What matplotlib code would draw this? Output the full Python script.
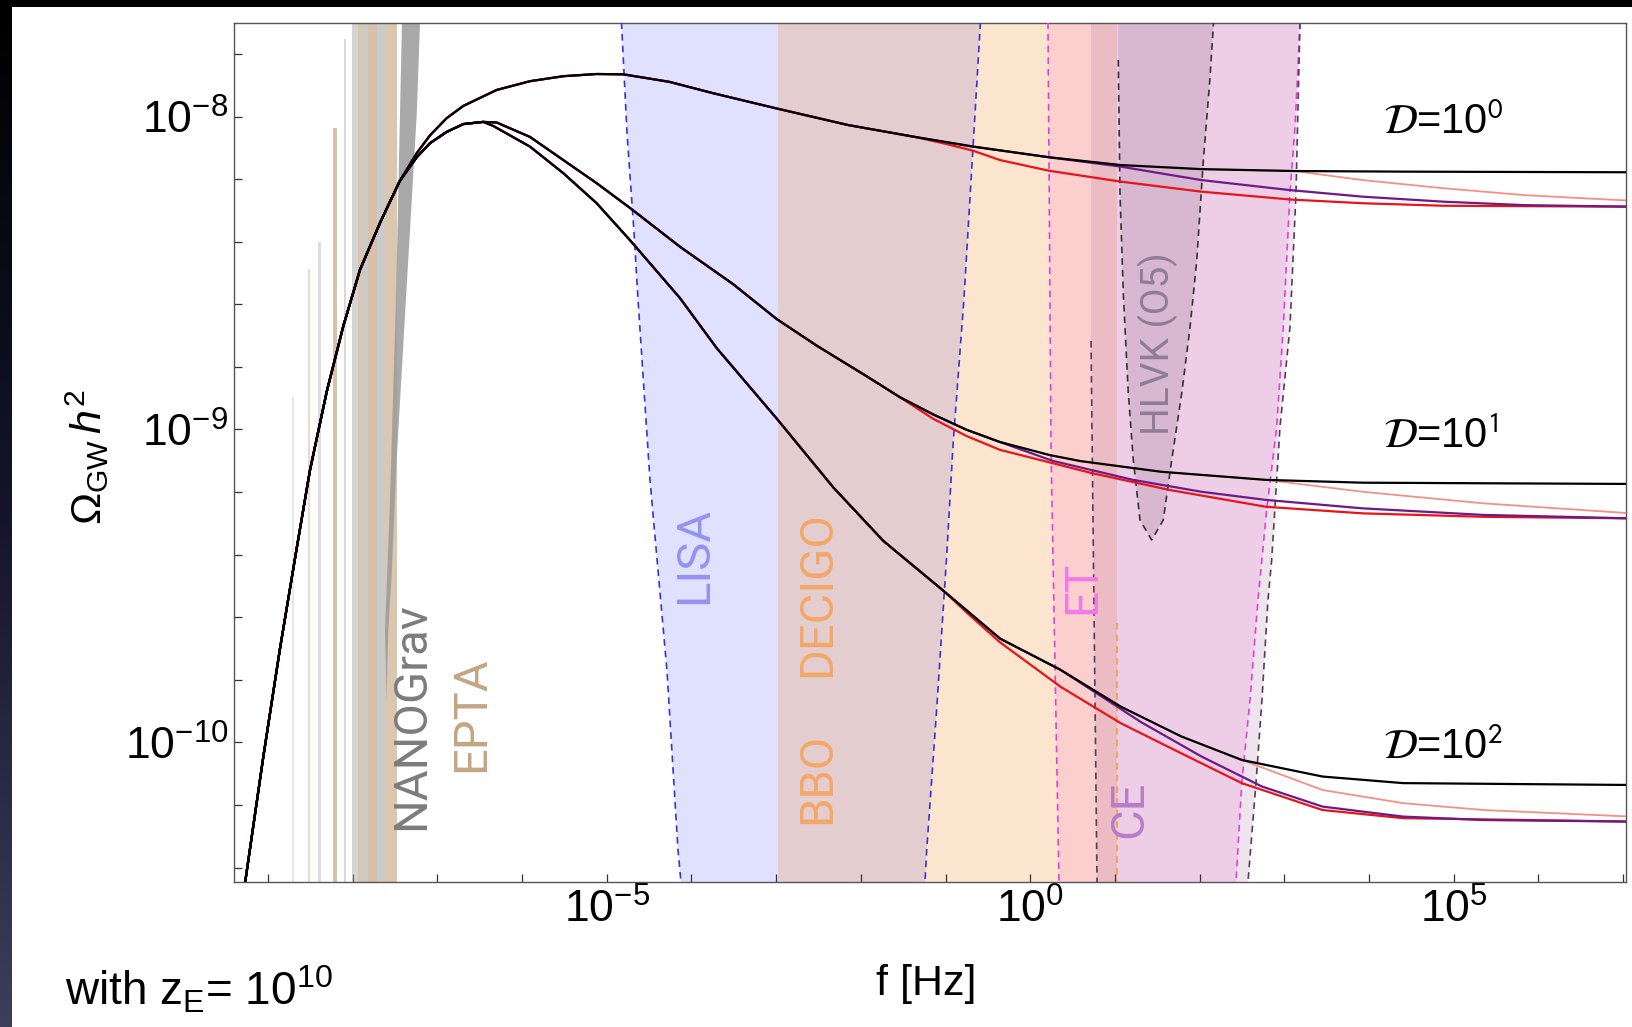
import numpy as np
import matplotlib
matplotlib.use('Agg')
import matplotlib.pyplot as plt
from matplotlib.patches import Rectangle
from matplotlib.colors import LinearSegmentedColormap
from matplotlib.ticker import NullLocator

plt.rcParams['font.family'] = ['Liberation Sans', 'DejaVu Sans']
plt.rcParams['mathtext.fontset'] = 'custom'
plt.rcParams['mathtext.rm'] = 'Liberation Sans'
plt.rcParams['mathtext.it'] = 'Liberation Sans:italic'
plt.rcParams['mathtext.bf'] = 'Liberation Sans:bold'
plt.rcParams['mathtext.sf'] = 'Liberation Sans'

# ---------------- data (log10 f [Hz], log10 Omega h^2) ----------------
rise_lf = [-9.45, -9.27, -9.054, -8.857, -8.66, -8.503, -8.306, -8.110, -7.913, -7.677, -7.441]
rise_lo = [-10.79, -10.45, -10.046, -9.70, -9.38, -9.13, -8.88, -8.67, -8.49, -8.34, -8.205]

d1_lf_tail = [-7.243, -7.086, -6.889, -6.693, -6.299, -5.906, -5.512, -5.118, -4.804, -4.261, -3.734,
              -2.996, -2.152, -1.362, -0.673, 0.220, 1.072, 2.022, 3.115, 4.401, 7.10]
d1_lo_tail = [-8.117, -8.060, -8.005, -7.966, -7.915, -7.887, -7.871, -7.864, -7.865, -7.889, -7.926,
              -7.974, -8.027, -8.065, -8.096, -8.130, -8.155, -8.168, -8.174, -8.176, -8.178]
red1_at = -1.362
red1_lf = [-1.000, -0.676, -0.357, 0.220, 1.072, 2.022, 3.067, 3.927, 4.879, 7.10]
red1_lo = [-8.087, -8.109, -8.139, -8.173, -8.208, -8.240, -8.265, -8.277, -8.285, -8.288]
purple1_at = 0.220
purple1_lf = [1.072, 1.532, 2.022, 3.067, 3.927, 4.879, 5.830, 7.10]
purple1_lo = [-8.160, -8.181, -8.203, -8.235, -8.256, -8.272, -8.283, -8.288]
pink1_at = 3.115
pink1_lf = [3.927, 4.879, 5.830, 7.10]
pink1_lo = [-8.203, -8.229, -8.251, -8.269]

d10_lf_tail = [-7.243, -7.086, -6.889, -6.693, -6.457, -6.299, -5.906, -5.512, -5.118, -4.725, -4.135,
               -3.505, -2.993, -2.521, -1.930, -1.537, -1.144, -0.750, -0.357, 0.234, 0.595,
               1.544, 2.784, 3.927, 7.10]
d10_lo_tail = [-8.130, -8.085, -8.049, -8.024, -8.017, -8.019, -8.065, -8.139, -8.213, -8.292, -8.416,
               -8.536, -8.647, -8.732, -8.830, -8.897, -8.952, -9.001, -9.040, -9.082, -9.101,
               -9.135, -9.161, -9.170, -9.174]
red10_at = -1.537
red10_lf = [-1.144, -0.750, -0.357, 0.738, 1.642, 2.784, 3.927, 5.354, 7.10]
red10_lo = [-8.966, -9.021, -9.065, -9.140, -9.193, -9.247, -9.268, -9.279, -9.284]
purple10_at = -0.357
purple10_lf = [0.262, 1.214, 2.022, 2.784, 3.927, 5.354, 7.10]
purple10_lo = [-9.100, -9.161, -9.199, -9.225, -9.252, -9.273, -9.284]
pink10_at = 2.784
pink10_lf = [3.927, 5.354, 7.10]
pink10_lo = [-9.199, -9.236, -9.268]

d100_lf_tail = [-7.243, -7.086, -6.889, -6.693, -6.457, -6.339, -5.906, -5.512, -5.118, -4.725, -4.135,
                -3.701, -2.993, -2.325, -1.734, -1.026, -0.357, 0.358, 1.072, 1.785, 2.498,
                3.451, 4.401, 7.10]
d100_lo_tail = [-8.130, -8.085, -8.049, -8.024, -8.017, -8.030, -8.096, -8.181, -8.277, -8.395, -8.580,
                -8.740, -8.965, -9.185, -9.356, -9.515, -9.668, -9.768, -9.886, -9.981, -10.056,
                -10.109, -10.130, -10.136]
red100_at = -1.026
red100_lf = [-0.750, -0.357, 0.358, 1.072, 1.785, 2.498, 3.451, 4.401, 7.10]
red100_lo = [-9.585, -9.680, -9.822, -9.939, -10.035, -10.130, -10.216, -10.242, -10.253]
purple100_at = 0.358
purple100_lf = [1.308, 2.022, 2.737, 3.451, 4.401, 5.354, 7.10]
purple100_lo = [-9.935, -10.045, -10.141, -10.205, -10.237, -10.248, -10.253]
pink100_at = 2.498
pink100_lf = [3.451, 4.401, 5.354, 7.10]
pink100_lo = [-10.152, -10.194, -10.216, -10.237]

# detector regions
lisa_left_lf = [-4.83, -4.825, -4.760, -4.677, -4.630, -4.489, -4.288, -4.158, -4.123, -4.115]
lisa_left_lo = [-7.60, -7.701, -8.053, -8.372, -8.586, -9.161, -9.772, -10.344, -10.446, -10.55]
lisa_right_lf = [-0.58, -0.588, -0.677, -0.783, -0.908, -0.986, -1.104, -1.222, -1.242, -1.25]
lisa_right_lo = [-7.60, -7.701, -8.107, -8.586, -9.037, -9.404, -9.893, -10.344, -10.446, -10.55]
bbo_band = [-2.978, 1.025]
bbo_dash_lo = [-9.618, -10.55]
et_left_lf = [0.208, 0.210, 0.246, 0.340, 0.345]
et_left_lo = [-7.60, -7.701, -9.065, -10.446, -10.55]
et_right_lf = [3.19, 3.185, 3.165, 3.126, 3.067, 2.988, 2.910, 2.792, 2.689, 2.595, 2.498, 2.430, 2.42]
et_right_lo = [-7.60, -7.701, -7.819, -8.034, -8.244, -8.673, -8.992, -9.257, -9.545, -9.864, -10.129, -10.446, -10.55]
ce_left_lf = [0.718, 0.718, 0.718, 0.789, 0.790]
ce_left_lo = [-7.60, -7.701, -8.717, -10.446, -10.55]
ce_right_lf = [3.19, 3.185, 3.138, 3.067, 2.949, 2.851, 2.807, 2.736, 2.666, 2.571, 2.56]
ce_right_lo = [-7.60, -7.701, -8.244, -8.673, -8.992, -9.417, -9.545, -9.864, -10.129, -10.446, -10.55]
hlvk_lf = [1.040, 1.040, 1.060, 1.099, 1.158, 1.217, 1.296, 1.434, 1.571, 1.671, 1.789, 1.887, 1.966, 2.044, 2.123, 2.164, 2.17]
hlvk_lo = [-7.60, -7.819, -8.245, -8.565, -8.884, -9.097, -9.289, -9.353, -9.289, -9.097, -8.884, -8.673, -8.461, -8.141, -7.875, -7.701, -7.60]

# pulsar timing arrays: (log f centre, width in decades, top log Omega, opacity)
nano_c = [-8.700, -8.393, -8.090, -7.972, -7.848, -7.665]
nano_w = [0.020, 0.030, 0.022, 0.071, 0.059, 0.094]
nano_top = [-8.896, -8.401, -7.752, -7.6, -7.6, -7.6]
nano_a = [0.25, 0.35, 0.40, 0.45, 0.55, 0.55]
epta_c = [-8.511, -8.208, -7.907, -7.765, -7.547]
epta_w = [0.020, 0.045, 0.059, 0.106, 0.142]
epta_top = [-8.487, -8.037, -7.6, -7.6, -7.6]
epta_a = [0.35, 0.65, 0.60, 0.65, 0.60]
wedge_lf = [-7.417, -7.488, -7.558, -7.617, -7.600, -7.579, -7.538, -7.479, -7.401, -7.322, -7.243, -7.204]
wedge_lo = [-7.701, -8.586, -9.225, -9.644, -9.864, -9.644, -9.462, -9.094, -8.727, -8.363, -7.995, -7.701]

xtick_exp = list(range(-9, 8))
xlabel_exp = [-5, 0, 5]
ytick_exp = [round(-10.4 + 0.2 * i, 1) for i in range(14)]
ylabel_exp = [-10, -9, -8]


def P(v):
    return 10.0 ** np.asarray(v, dtype=float)


def branch(base_lf, base_lo, at, tail_lf, tail_lo):
    lf = [x for x in base_lf if x <= at]
    lo = base_lo[:len(lf)]
    return lf + tail_lf, lo + tail_lo


# ---------------- figure ----------------
fig = plt.figure(figsize=(16.32, 10.27), dpi=100)
fig.patch.set_facecolor('black')
fig.patches.append(Rectangle((12 / 1632, 0), 1, 1 - 7 / 1027, transform=fig.transFigure,
                             facecolor='white', edgecolor='none', zorder=-10))
gax = fig.add_axes([0, 0, 12 / 1632, 1])
cmap = LinearSegmentedColormap.from_list('strip', ['#000000', '#14152a', '#3c3e5c'])
gax.imshow(np.linspace(0, 1, 256)[:, None], aspect='auto', cmap=cmap)
gax.axis('off')

ax = fig.add_axes([234 / 1632, 1 - 882 / 1027, (1626 - 234) / 1632, (882 - 23) / 1027])
ax.set_xscale('log')
ax.set_yscale('log')
ax.set_xlim(10 ** -9.4, 10 ** 7.034)
ax.set_ylim(10 ** -10.446, 10 ** -7.701)

# regions
ax.fill(P(lisa_left_lf + lisa_right_lf[::-1]), P(lisa_left_lo + lisa_right_lo[::-1]),
        color='#8080ff', alpha=0.24, lw=0, zorder=1)
ax.axvspan(P(bbo_band[0]), P(bbo_band[1]), color=(246 / 255, 144 / 255, 47 / 255), alpha=0.226, lw=0, zorder=1)
ax.fill(P(ce_left_lf + ce_right_lf[::-1]), P(ce_left_lo + ce_right_lo[::-1]),
        color='#8e4b8e', alpha=0.15, lw=0, zorder=1)
ax.fill(P(et_left_lf + et_right_lf[::-1]), P(et_left_lo + et_right_lo[::-1]),
        color='#f378c8', alpha=0.2, lw=0, zorder=1)
ax.fill(P(hlvk_lf), P(hlvk_lo), color='#8a6a8a', alpha=0.22, lw=0, zorder=1)

dash = (0, (4, 3))
ax.plot(P(lisa_left_lf), P(lisa_left_lo), ls=dash, color='#3535d0', lw=1.2, zorder=3)
ax.plot(P(lisa_right_lf), P(lisa_right_lo), ls=dash, color='#3535d0', lw=1.2, zorder=3)
ax.plot(P([bbo_band[1]] * 2), P(bbo_dash_lo), ls=dash, color='#f0a040', lw=1.2, zorder=3)
ax.plot(P(et_left_lf), P(et_left_lo), ls=dash, color='#e040e0', lw=1.2, zorder=3)
ax.plot(P(et_right_lf), P(et_right_lo), ls=dash, color='#e040e0', lw=1.2, zorder=3)
ax.plot(P(ce_left_lf[2:]), P(ce_left_lo[2:]), ls=dash, color='#5a3a5a', lw=1.2, zorder=3)
ax.plot(P(ce_right_lf), P(ce_right_lo), ls=dash, color='#5a3a5a', lw=1.2, zorder=3)
ax.plot(P(hlvk_lf[1:-1]), P(hlvk_lo[1:-1]), ls=dash, color='#333333', lw=1.2, zorder=3)

# PTA violins
for c, w, t, a in zip(nano_c, nano_w, nano_top, nano_a):
    ax.fill_betweenx(P([-10.6, t]), P(c - w / 2), P(c + w / 2), color='#a0a0a0', alpha=a, lw=0, zorder=2)
for c, w, t, a in zip(epta_c, epta_w, epta_top, epta_a):
    ax.fill_betweenx(P([-10.6, t]), P(c - w / 2), P(c + w / 2), color='#c4a07a', alpha=a, lw=0, zorder=2)
ax.fill(P(wedge_lf), P(wedge_lo), color='#9a9a9a', alpha=0.85, lw=0, zorder=2)

# curves
groups = [
    (d1_lf_tail, d1_lo_tail, (red1_at, red1_lf, red1_lo), (purple1_at, purple1_lf, purple1_lo), (pink1_at, pink1_lf, pink1_lo)),
    (d10_lf_tail, d10_lo_tail, (red10_at, red10_lf, red10_lo), (purple10_at, purple10_lf, purple10_lo), (pink10_at, pink10_lf, pink10_lo)),
    (d100_lf_tail, d100_lo_tail, (red100_at, red100_lf, red100_lo), (purple100_at, purple100_lf, purple100_lo), (pink100_at, pink100_lf, pink100_lo)),
]
for blf_t, blo_t, red, purple, pink in groups:
    blf = rise_lf + blf_t
    blo = rise_lo + blo_t
    for (at, tlf, tlo), col, lw, z in [(pink, '#f49088', 1.3, 5), (red, '#e8141a', 1.6, 6), (purple, '#6e1a86', 1.6, 7)]:
        lf, lo = branch(blf, blo, at, tlf, tlo)
        ax.plot(P(lf), P(lo), color=col, lw=lw, zorder=z, solid_capstyle='round', solid_joinstyle='round')
    ax.plot(P(blf), P(blo), color='black', lw=1.6, zorder=8, solid_joinstyle='round')

# labels
lab = dict(rotation=90, ha='center', va='bottom', family=['Roboto', 'DejaVu Sans'], fontweight='normal', zorder=4)
ax.text(P(-7.311), P(-10.280), 'NANOGrav', color='#7c7c7c', fontsize=34, **lab)
ax.text(P(-6.602), P(-10.094), 'EPTA', color='#c4a584', fontsize=34, **lab)
ax.text(P(-3.969), P(-9.558), 'LISA', color='#9393f3', fontsize=34, **lab)
ax.text(P(-2.517), P(-10.260), 'BBO', color='#f4a86a', fontsize=34, **lab)
ax.text(P(-2.517), P(-9.791), 'DECIGO', color='#f4a86a', fontsize=34, **lab)
ax.text(P(0.612), P(-9.589), 'ET', color='#f27ae8', fontsize=33, **lab)
ax.text(P(1.167), P(-10.305), 'CE', color='#b77dc9', fontsize=34, **lab)
ax.text(P(1.509), P(-9.018), 'HLVK (O5)', color='#8e7e94', fontsize=28, **lab)

for e, yb in zip([0, 1, 2], [-8.056, -9.059, -10.053]):
    ax.text(P(4.165), P(yb), r'$\mathcal{D}$=10$^{\mathsf{%d}}$' % e, fontsize=30, math_fontfamily='stix',
            ha='left', va='baseline', zorder=9)

# ticks
ax.set_xticks(P(xtick_exp))
ax.set_xticklabels([r'$\mathregular{10^{%d}}$' % k if k in xlabel_exp else '' for k in xtick_exp])
ax.set_yticks(P(ytick_exp))
ax.set_yticklabels([r'$\mathregular{10^{%d}}$' % int(round(k)) if round(k, 1) in ylabel_exp else '' for k in ytick_exp])
ax.xaxis.set_minor_locator(NullLocator())
ax.yaxis.set_minor_locator(NullLocator())
ax.tick_params(axis='both', which='major', direction='in', length=6, width=0.9, color='#333333',
               labelsize=32, top=False, right=False)
ax.tick_params(axis='x', pad=5)
ax.tick_params(axis='y', pad=4)
for s in ax.spines.values():
    s.set_color('#555555')
    s.set_linewidth(1.0)

ax.set_xlabel('f [Hz]', fontsize=31)
ax.xaxis.set_label_coords(0.497, -0.119)
ax.xaxis.label.set_va('center')
ax.set_ylabel(r'$\mathregular{\Omega_{GW}}\,h^{2}$', fontsize=31)
ax.yaxis.set_label_coords(-0.105, 0.494)
ax.yaxis.label.set_va('center')

fig.text(65 / 1632, 1 - 990 / 1027, r'with z$_\mathregular{E}$= 10$^\mathregular{10}$', fontsize=33,
         ha='left', va='center')

fig.savefig('out.png', dpi=100, facecolor=fig.get_facecolor())
